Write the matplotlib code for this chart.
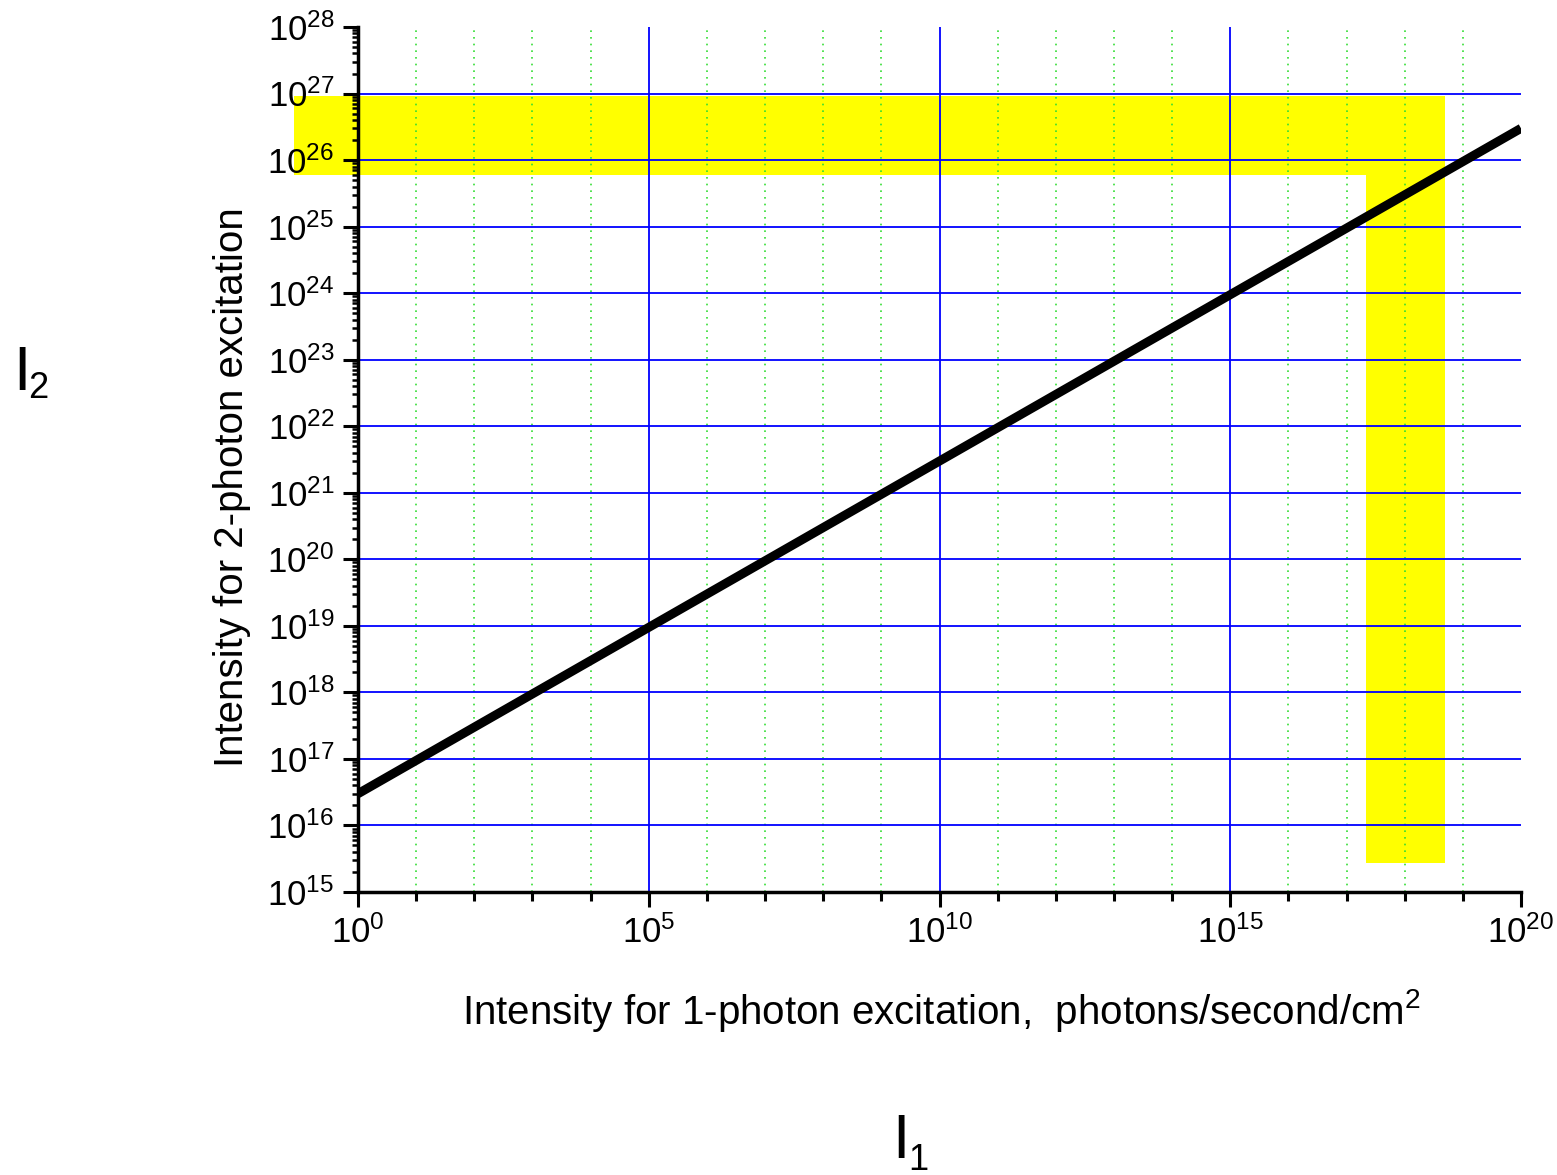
import numpy as np
import matplotlib
matplotlib.use("Agg")
import matplotlib.pyplot as plt
from matplotlib import font_manager
from matplotlib.ticker import FixedLocator, FuncFormatter, NullFormatter

# data
i1 = [1e0, 1e20]          # intensity for 1-photon excitation
i2 = [3e16, 3e26]         # intensity for 2-photon excitation

# yellow highlight: horizontal band and vertical column
band_i1 = [0.08, 5e18]
band_i2 = [5.9e25, 9.3e26]
col_i1 = [2.2e17, 5e18]
col_i2 = [2.75e15, 5.9e25]

x_decades = list(range(0, 21))
x_major = [0, 5, 10, 15, 20]
y_decades = list(range(15, 29))

plt.rcParams['font.family'] = ['Liberation Sans', 'DejaVu Sans']
plt.rcParams['mathtext.fontset'] = 'custom'
plt.rcParams['mathtext.rm'] = 'Liberation Sans'
plt.rcParams['mathtext.it'] = 'Liberation Sans:italic'
plt.rcParams['mathtext.bf'] = 'Liberation Sans:bold'

names = {f.name for f in font_manager.fontManager.ttflist}
if 'Liberation Sans Narrow' in names:
    label_font, label_size = 'Liberation Sans Narrow', 36
else:
    label_font, label_size = 'Liberation Sans', 29

fig = plt.figure(figsize=(15.57, 11.75), dpi=100)
W, H = 1557, 1175
ax = fig.add_axes([358 / W, 1 - 892 / H, 1163 / W, 865 / H])
ax.set_xscale('log')
ax.set_yscale('log')
ax.set_xlim(1e0, 1e20)
ax.set_ylim(1e15, 1e28)

# yellow region (extends left past the axis)
ax.fill_between(band_i1, band_i2[0], band_i2[1], color='#ffff00', lw=0,
                clip_on=False, zorder=1)
ax.fill_between(col_i1, col_i2[0], col_i2[1], color='#ffff00', lw=0,
                clip_on=False, zorder=1)

ax.plot(i1, i2, color='black', lw=6.5, solid_capstyle='butt', zorder=3)

# ticks
ax.xaxis.set_major_locator(FixedLocator([10.0 ** d for d in x_major]))
ax.xaxis.set_minor_locator(FixedLocator([10.0 ** d for d in x_decades if d not in x_major]))
ax.yaxis.set_major_locator(FixedLocator([10.0 ** d for d in y_decades]))
ax.yaxis.set_minor_locator(FixedLocator([m * 10.0 ** d for d in y_decades[:-1] for m in range(2, 10)]))

fmt = FuncFormatter(lambda v, _: r"$\mathregular{10^{%d}}$" % int(round(np.log10(v))))
ax.xaxis.set_major_formatter(fmt)
ax.yaxis.set_major_formatter(fmt)
ax.xaxis.set_minor_formatter(NullFormatter())
ax.yaxis.set_minor_formatter(NullFormatter())

ax.tick_params(which='major', direction='out', length=11, width=2.2, labelsize=25, pad=6)
ax.tick_params(axis='x', which='minor', direction='out', length=6.5, width=2.2)
ax.tick_params(axis='y', which='minor', direction='out', length=4.5, width=1.8)

for s in ['top', 'right']:
    ax.spines[s].set_visible(False)
for s in ['left', 'bottom']:
    ax.spines[s].set_linewidth(2.5)

# grid
ax.grid(which='major', axis='both', color='#0000ff', lw=1.3, zorder=2)
ax.grid(which='minor', axis='x', color='#33dd33', lw=1.2, ls=(0, (1, 3)))
ax.grid(which='minor', axis='y', visible=False)
for t in ax.yaxis.get_major_ticks()[-1:]:
    t.gridline.set_visible(False)
xt = ax.xaxis.get_major_ticks()
xt[0].gridline.set_visible(False)
xt[-1].gridline.set_visible(False)

# labels
fig.text(941 / W, 1 - 1010 / H, "Intensity for 1-photon excitation,  photons/second/cm$^2$",
         ha='center', va='center', fontsize=label_size, family=label_font)
fig.text(232 / W, 1 - 487 / H, "Intensity for 2-photon excitation",
         ha='center', va='center', rotation=90, fontsize=label_size, family=label_font)

fig.text(13 / W, 1 - 390 / H, "I", ha='left', va='baseline', fontsize=45)
fig.text(28 / W, 1 - 398 / H, "2", ha='left', va='baseline', fontsize=26)
fig.text(892 / W, 1 - 1158 / H, "I", ha='left', va='baseline', fontsize=45)
fig.text(908 / W, 1 - 1170 / H, "1", ha='left', va='baseline', fontsize=26)

fig.savefig("out.png", dpi=100)
